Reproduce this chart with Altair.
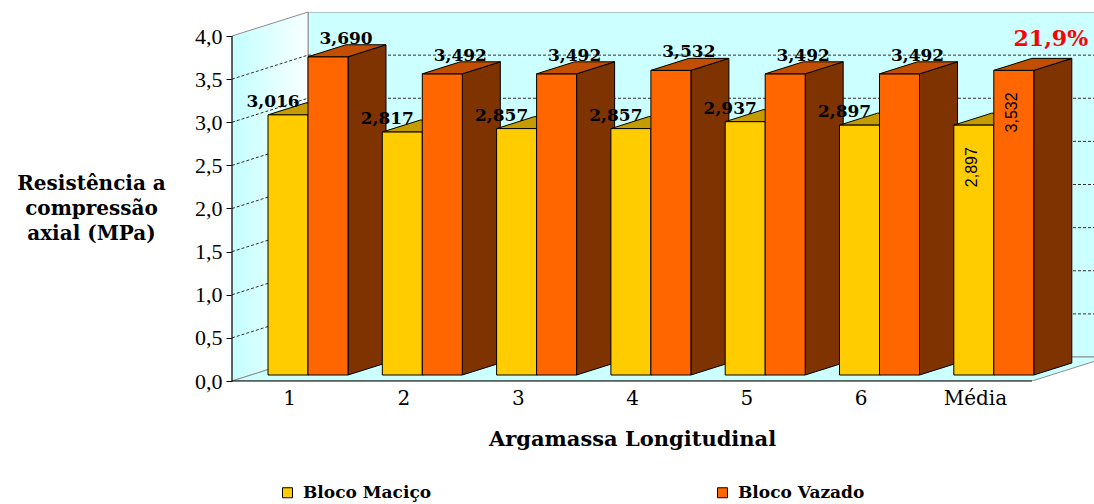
import json
import altair as alt
import pandas as pd

# ---------------------------------------------------------------------------
# Data: axial compressive strength (MPa) per specimen, longitudinal mortar
# ---------------------------------------------------------------------------
categorias = ["1", "2", "3", "4", "5", "6", "Média"]
bloco_macico = [3.016, 2.817, 2.857, 2.857, 2.937, 2.897, 2.897]
bloco_vazado = [3.690, 3.492, 3.492, 3.532, 3.492, 3.492, 3.532]
series = ["Bloco Maciço", "Bloco Vazado"]
y_ticks = [0.0, 0.5, 1.0, 1.5, 2.0, 2.5, 3.0, 3.5, 4.0]

# ---------------------------------------------------------------------------
# Pseudo-3D frame geometry (pixel sizes turned into data units)
# ---------------------------------------------------------------------------
W, H = 862, 369              # plot area
PX_CAT = 114.3               # pixels per category slot
PX_MPA = 86.25               # pixels per MPa
XMAX = W / PX_CAT
WX = 76 / PX_CAT             # wall depth, horizontal component
WY = 24 / PX_MPA             # wall depth, vertical component
YMAX = 4.0 + WY
GAP = 17 / PX_CAT            # space before the first bar of a slot
BW = 40 / PX_CAT             # bar width
DX1, DY1 = 0.25 * WX, 0.25 * WY   # bar front face depth
DX2, DY2 = 0.75 * WX, 0.75 * WY   # bar back face depth
DDX, DDY = DX2 - DX1, DY2 - DY1

FRONT = ["#FFCC00", "#FF6600"]
TOP = ["#C49C00", "#C24E00"]
SIDE = ["#806600", "#7F3300"]
WALL = "#CCFFFF"
EDGE = "#8C8C8C"

SERIF = "Liberation Serif"
WIDE_SERIF = "DejaVu Serif"

xs = alt.Scale(domain=[0, XMAX], nice=False, zero=False)
ys = alt.Scale(domain=[0, YMAX], nice=False, zero=False)

# shared axes (every layer carries the same definition)
x_title = "Argamassa Longitudinal"
y_title = ["Resistência a", "compressão", "axial (MPa)"]
x_label_expr = json.dumps(categorias, ensure_ascii=False) + "[floor(datum.value)]"

XAX = alt.Axis(
    values=[i + 0.5 for i in range(len(categorias))],
    labelExpr=x_label_expr, domain=False, grid=False, ticks=False,
    labelFont=WIDE_SERIF, labelFontSize=20, labelColor="black",
    labelPadding=7, labelFlush=False, labelOverlap=False,
    titleFont=WIDE_SERIF, titleFontSize=21,
    titleFontWeight="bold", titleColor="black",
    titleX=len(categorias) * PX_CAT / 2, titleY=58,
    titleAlign="center", titleBaseline="middle",
)
YAX = alt.Axis(
    values=y_ticks,
    labelExpr="replace(format(datum.value, '.1f'), '.', ',')",
    domain=False, grid=False, tickColor="black", tickSize=6, tickWidth=1,
    labelFont=SERIF, labelFontSize=22, labelColor="black", labelPadding=4,
    labelFlush=False, labelOverlap=False,
    titleAngle=0, titleFont=WIDE_SERIF, titleFontSize=20,
    titleFontWeight="bold", titleColor="black", titleLineHeight=25,
    titleX=-141, titleY=171, titleAlign="center", titleBaseline="middle",
)


def X(field):
    return alt.X(field, scale=xs, axis=XAX, title=x_title)


def Y(field):
    return alt.Y(field, scale=ys, axis=YAX, title=y_title)


# ---------------------------------------------------------------------------
# Faces of every bar
# ---------------------------------------------------------------------------
front_rows, top_rows, side_rows = [], [], []
for i, cat in enumerate(categorias):
    for s, vals in enumerate([bloco_macico, bloco_vazado]):
        v = vals[i]
        bid = f"{cat}-{s}"
        x0 = i + GAP + s * BW + DX1
        x1 = x0 + BW
        front_rows.append(dict(bid=bid, cat=cat, idx=i, serie=series[s], v=v,
                               x0=x0, x1=x1, xc=(x0 + x1) / 2,
                               y0=DY1, y1=v + DY1,
                               rotulo=f"{v:.3f}".replace(".", ",")))
        top_rows += [
            dict(bid=bid, serie=series[s], yy=v + DY1, xa=x0, xb=x1),
            dict(bid=bid, serie=series[s], yy=v + DY2, xa=x0 + DDX, xb=x1 + DDX),
        ]
        side_rows += [
            dict(bid=bid, serie=series[s], xx=x1, ya=v + DY1, yb=DY1),
            dict(bid=bid, serie=series[s], xx=x1 + DDX, ya=v + DY2, yb=DY2),
        ]

front = pd.DataFrame(front_rows)
top = pd.DataFrame(top_rows)
side = pd.DataFrame(side_rows)

# ---------------------------------------------------------------------------
# Walls and floor
# ---------------------------------------------------------------------------
back_wall = alt.Chart(pd.DataFrame([dict(x=WX, x2=XMAX + 1, y=WY, y2=YMAX)])).mark_rect(
    fill=WALL, stroke=EDGE, strokeWidth=1, clip=True
).encode(x=X("x:Q"), x2="x2:Q", y=Y("y:Q"), y2="y2:Q")

left_wall = alt.Chart(pd.DataFrame([
    dict(x=0.0, y=4.0, y2=0.0),
    dict(x=WX, y=4.0 + WY, y2=WY),
])).mark_area(
    stroke=EDGE, strokeWidth=1,
    fill=alt.Gradient(gradient="linear", x1=0, x2=1, y1=0, y2=0,
                      stops=[alt.GradientStop(offset=0, color="#C4FFFF"),
                             alt.GradientStop(offset=0.45, color="#DCFFFF"),
                             alt.GradientStop(offset=1, color="#F8FFFF")]),
).encode(x=X("x:Q"), y=Y("y:Q"), y2="y2:Q")

floor = alt.Chart(pd.DataFrame([
    dict(y=0.0, x=0.0, x2=float(len(categorias))),
    dict(y=WY, x=WX, x2=len(categorias) + WX),
])).mark_area(orient="horizontal", fill=WALL, stroke=EDGE, strokeWidth=1, clip=True).encode(
    y=Y("y:Q"), x=X("x:Q"), x2="x2:Q"
)

grid_vals = [t for t in y_ticks if 0 < t < 4.0]
grid_left = alt.Chart(pd.DataFrame(dict(
    x=[0.0] * len(grid_vals), x2=[WX] * len(grid_vals),
    y=grid_vals, y2=[g + WY for g in grid_vals],
))).mark_rule(color="#303030", strokeWidth=1, strokeDash=[3, 2]).encode(
    x=X("x:Q"), x2="x2:Q", y=Y("y:Q"), y2="y2:Q"
)
grid_back = alt.Chart(pd.DataFrame(dict(
    x=[WX] * len(grid_vals), x2=[XMAX] * len(grid_vals),
    y=[g + WY for g in grid_vals],
))).mark_rule(color="#303030", strokeWidth=1, strokeDash=[3, 2]).encode(
    x=X("x:Q"), x2="x2:Q", y=Y("y:Q")
)

# front axis line and floor front edge
axis_line = alt.Chart(pd.DataFrame([dict(x=0.0, y=0.0, y2=4.0)])).mark_rule(
    color="black", strokeWidth=1
).encode(x=X("x:Q"), y=Y("y:Q"), y2="y2:Q")
floor_edge = alt.Chart(pd.DataFrame([dict(x=0.0, x2=float(len(categorias)), y=0.0)])).mark_rule(
    color="black", strokeWidth=1
).encode(x=X("x:Q"), x2="x2:Q", y=Y("y:Q"))


# ---------------------------------------------------------------------------
# Bars (drawn back to front)
# ---------------------------------------------------------------------------
def sides(serie, color):
    return alt.Chart(side[side.serie == serie]).mark_area(
        fill=color, stroke="black", strokeWidth=1
    ).encode(x=X("xx:Q"), y=Y("ya:Q"), y2="yb:Q", detail="bid:N")


def tops(serie, color):
    return alt.Chart(top[top.serie == serie]).mark_area(
        orient="horizontal", fill=color, stroke="black", strokeWidth=1
    ).encode(y=Y("yy:Q"), x=X("xa:Q"), x2="xb:Q", detail="bid:N")


def fronts(serie):
    return alt.Chart(front[front.serie == serie]).mark_rect(
        stroke="black", strokeWidth=1
    ).encode(
        x=X("x0:Q"), x2="x1:Q", y=Y("y1:Q"), y2="y0:Q",
        color=alt.Color(
            "serie:N",
            scale=alt.Scale(domain=series, range=FRONT),
            legend=alt.Legend(
                orient="none", legendX=47, legendY=472, direction="horizontal",
                title=None, symbolType="square", symbolSize=100,
                symbolStrokeColor="black", symbolStrokeWidth=1,
                labelFont=WIDE_SERIF, labelFontSize=17, labelFontWeight="bold",
                labelColor="black", labelOffset=7, columnPadding=282,
                labelLimit=400,
            ),
        ),
    )


# ---------------------------------------------------------------------------
# Value labels
# ---------------------------------------------------------------------------
media = categorias[-1]
std = front[front.cat != media]
avg = front[front.cat == media]


def value_labels(serie, dx, dy):
    return alt.Chart(std[std.serie == serie]).mark_text(
        font=WIDE_SERIF, fontSize=17, fontWeight="bold", color="black",
        baseline="alphabetic", align="center", dx=dx, dy=dy,
    ).encode(x=X("xc:Q"), y=Y("y1:Q"), text="rotulo:N")


avg_labels = alt.Chart(avg).mark_text(
    font="Liberation Sans", fontSize=16, color="black", angle=270,
    align="right", baseline="middle", dx=-22, dy=-2,
).encode(x=X("xc:Q"), y=Y("y1:Q"), text="rotulo:N")

ganho = (bloco_vazado[-1] / bloco_macico[-1] - 1) * 100
pct = avg[avg.serie == series[1]].assign(pct=f"{ganho:.1f}%".replace(".", ","))
pct_label = alt.Chart(pct).mark_text(
    font=WIDE_SERIF, fontSize=22, fontWeight="bold", color="#FF0000",
    baseline="alphabetic", align="center", dx=37, dy=-24,
).encode(x=X("xc:Q"), y=Y("y1:Q"), text="pct:N")

chart = alt.layer(
    back_wall, left_wall, floor, grid_left, grid_back,
    sides(series[1], SIDE[1]),
    sides(series[0], SIDE[0]),
    tops(series[0], TOP[0]),
    fronts(series[0]),
    fronts(series[1]),
    tops(series[1], TOP[1]),
    axis_line, floor_edge,
    value_labels(series[0], -15, -8),
    value_labels(series[1], 18, -13),
    avg_labels, pct_label,
).properties(
    width=W, height=H,
    autosize=alt.AutoSizeParams(type="none"),
    padding={"left": 232, "top": 12, "right": 0, "bottom": 123},
    background="white",
).configure_view(stroke=None)

chart.save("out.html", embed_options={"renderer": "svg", "actions": False})
